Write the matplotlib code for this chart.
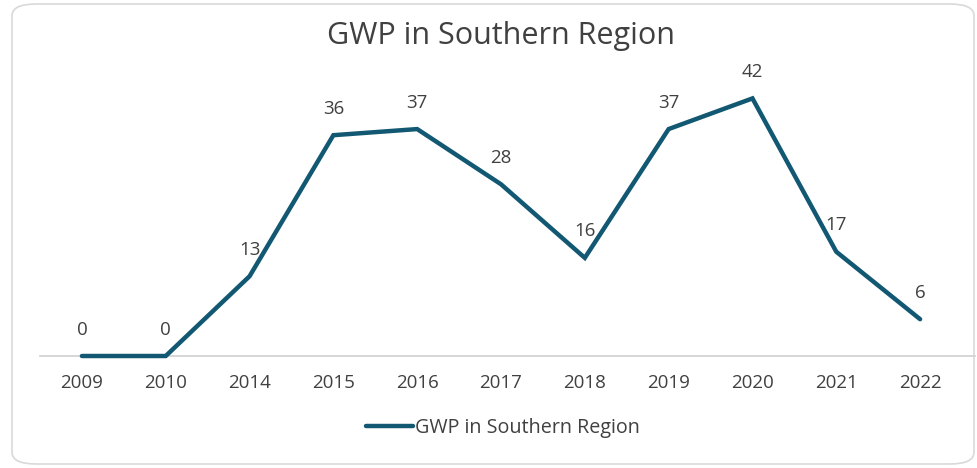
import matplotlib
matplotlib.use("Agg")
import matplotlib.pyplot as plt
from matplotlib.patches import FancyBboxPatch

years = ["2009", "2010", "2014", "2015", "2016", "2017", "2018", "2019", "2020", "2021", "2022"]
gwp = [0, 0, 13, 36, 37, 28, 16, 37, 42, 17, 6]
series_name = "GWP in Southern Region"
title = "GWP in Southern Region"

line_color = "#125873"
text_color = "#404040"
font = ["Open Sans", "DejaVu Sans"]
plt.rcParams["font.family"] = font

fig = plt.figure(figsize=(9.78, 4.68), dpi=100)
border = FancyBboxPatch((12 / 978, 4 / 468), 962 / 978, 460 / 468,
                        boxstyle="round,pad=0,rounding_size=0.025",
                        transform=fig.transFigure, facecolor="none",
                        edgecolor="#D9D9D9", linewidth=1.2, zorder=-5)
fig.patches.append(border)

ax = fig.add_axes([40 / 978, (468 - 356) / 468, 922 / 978, 276 / 468])
ax.set_facecolor("none")
x = list(range(len(years)))
ax.plot(x, gwp, color=line_color, linewidth=3.2, solid_capstyle="round",
        solid_joinstyle="miter", label=series_name, zorder=3, clip_on=False)
for xi, v in zip(x, gwp):
    ax.annotate(str(v), (xi, v), xytext=(0, 19), textcoords="offset points",
                ha="center", va="center", fontsize=13.5, color=text_color)

ax.set_xlim(-0.5, len(years) - 0.5)
ax.set_ylim(0, 45)
ax.set_xticks(x)
ax.set_xticklabels(years, fontsize=13.5, color=text_color)
ax.tick_params(axis="x", length=0, pad=13)
ax.set_yticks([])
for s in ["top", "right", "left"]:
    ax.spines[s].set_visible(False)
ax.spines["bottom"].set_color("#D0D0D0")
ax.spines["bottom"].set_linewidth(1.2)
ax.spines["bottom"].set_bounds(-0.5, len(years) - 0.35)
ax.spines["bottom"].set_zorder(1)

fig.text(501 / 978, 1 - 36 / 468, title, ha="center", va="center",
         fontsize=22, color="#404040")

leg = fig.legend(loc="center", bbox_to_anchor=(503 / 978, 1 - 428 / 468),
                 frameon=False, fontsize=14.2, handlelength=2.4,
                 handletextpad=0.1, labelcolor=text_color)

fig.savefig("out.png", dpi=100)
